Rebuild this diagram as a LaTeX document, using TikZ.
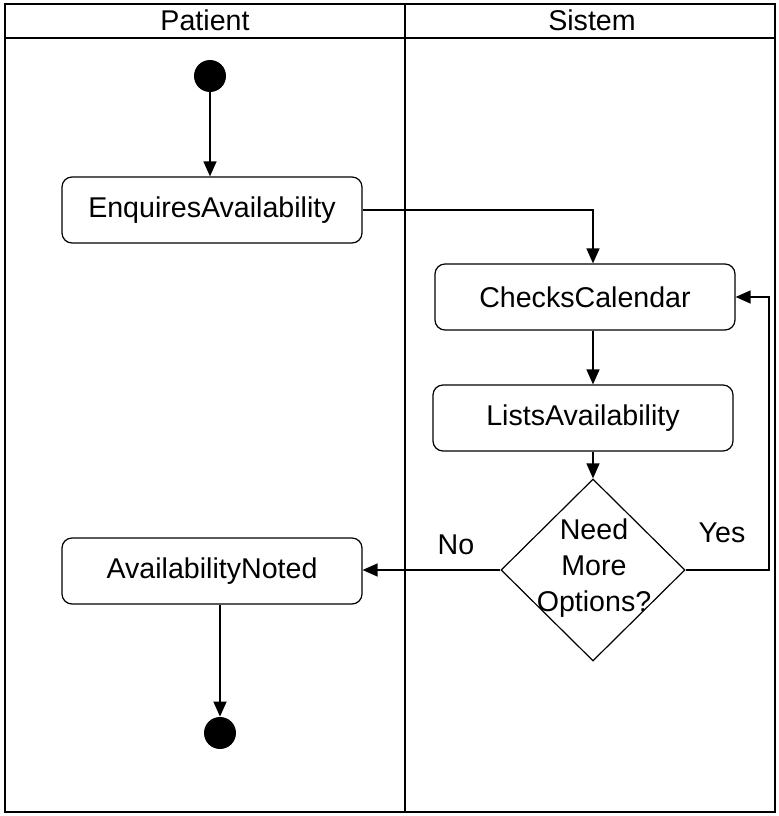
\documentclass[tikz,border=0pt]{standalone}
\usepackage{fontspec}
\setmainfont{Liberation Sans}
\usetikzlibrary{arrows.meta,positioning,calc,shapes.geometric}
\tikzset{
  % swimlane frame
  lane/.style={line width=1pt, black},
  % activity boxes
  actbox/.style={draw, line width=0.6pt, rounded corners=5pt,
    minimum width=150pt, minimum height=33pt, inner sep=0pt},
  % decision diamond
  choice/.style={draw, diamond, line width=0.6pt,
    minimum width=92pt, minimum height=91pt, inner sep=0pt},
  % initial / final dots
  endpt/.style={circle, fill=black, minimum size=16pt, inner sep=0pt},
  % control flow
  flow/.style={-{Triangle[length=7.5pt,width=6.5pt]}, line width=0.7pt},
  lbl/.style={inner sep=0pt},
}
\begin{document}
\begin{tikzpicture}[x=0.5pt, y=0.5pt,
    every node/.style={font=\fontsize{14.3}{18}\selectfont}]
    \useasboundingbox (0,0) rectangle (779,816);
    % --- lanes ---
    \draw[lane] (5,4) rectangle (775,812);
    \draw[lane] (5,778) -- (775,778);
    \draw[lane] (405,4) -- (405,812);
    \node[lbl] (hpat) at (205,796) {Patient};
    \node[lbl] (hsys) at (592,796) {Sistem};
    % --- Patient lane ---
    \node[endpt] (start) at (210,740) {};
    \node[actbox] (enquires) at (212,606) {EnquiresAvailability};
    \node[actbox] (noted) at (212,245) {AvailabilityNoted};
    \node[endpt] (stop) at (220,83) {};
    % --- Sistem lane ---
    \node[actbox] (checks) at (585,519) {ChecksCalendar};
    \node[actbox] (lists) at (583,398) {ListsAvailability};
    \node[choice] (decide) at (593,246) {};
    \node[lbl, align=center] (ask) at (594,248) {Need\\More\\Options?};
    \coordinate (loop) at (769,519);
    \node[lbl] (yes) at (722,283) {Yes};
    \node[lbl] (no) at (456,271) {No};
    % flows
    \draw[flow] (start) -- (start |- enquires.north);
    \draw[flow] (enquires.east) -| (decide.north |- checks.north);
    \draw[flow] (decide.north |- checks.south) -- (decide.north |- lists.north);
    \draw[flow] (decide.north |- lists.south) -- (decide.north);
    \draw[flow] (decide.east) -| (loop) -- (checks.east);
    \draw[flow] (decide.west) -- (decide.west -| noted.east);
    \draw[flow] (noted.south -| stop) -- (stop);
  \end{tikzpicture}
\end{document}
